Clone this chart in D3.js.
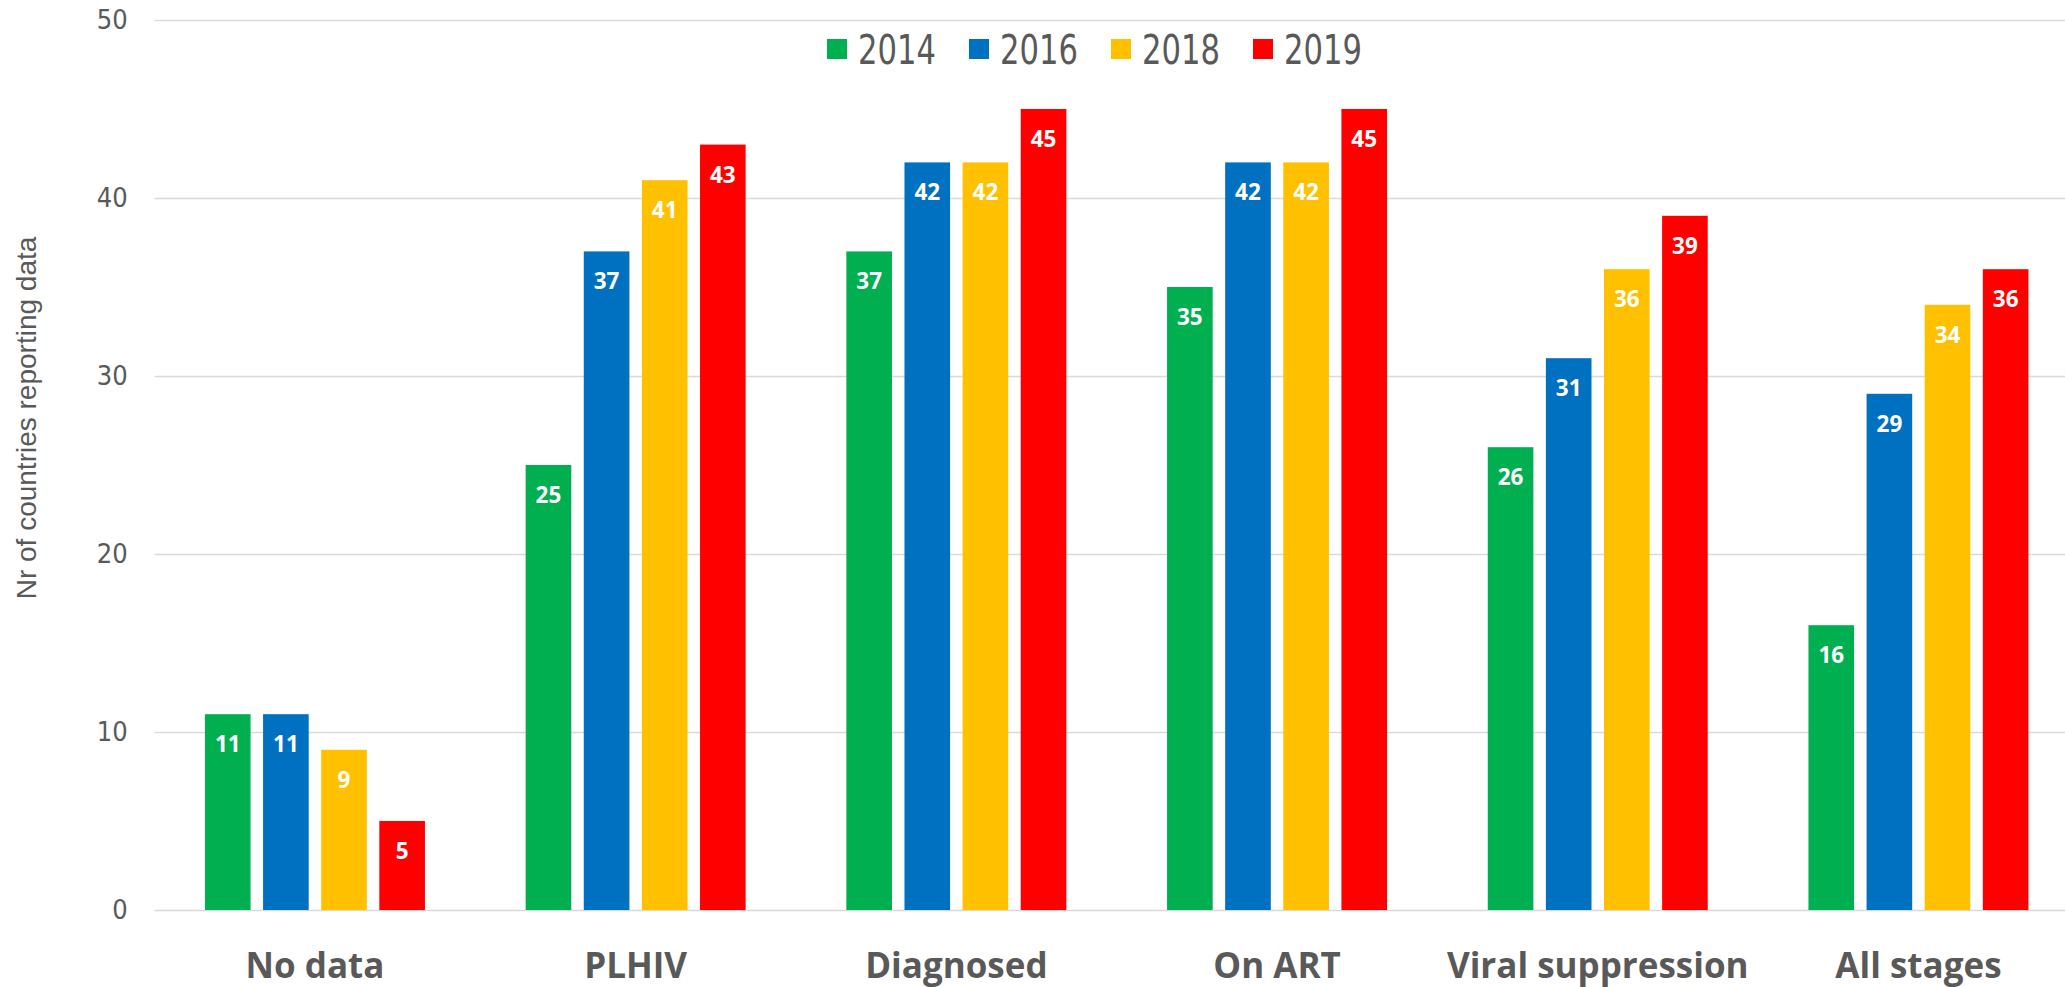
<html lang='en'>
<head>
   <meta charset='UTF-8'>
   <script src='https://d3js.org/d3.v7.min.js'></script>
   <style>
      body{
         margin: 0;
         padding: 0;
         background-color: white;
         overflow: hidden;
      }
   </style>
</head>
<body>
   <div id='tavola'></div>
   <script>
      // chart data
      var categories = ['No data', 'PLHIV', 'Diagnosed', 'On ART', 'Viral suppression', 'All stages'];
      var years = ['2014', '2016', '2018', '2019'];
      var v2014 = [11, 25, 37, 35, 26, 16];
      var v2016 = [11, 37, 42, 42, 31, 29];
      var v2018 = [9, 41, 42, 42, 36, 34];
      var v2019 = [5, 43, 45, 45, 39, 36];
      var yTicks = [0, 10, 20, 30, 40, 50];
      var yTitle = 'Nr of countries reporting data';

      var colors = ['#00B050', '#0070C0', '#FFC000', '#FF0000'];
      var series = [v2014, v2016, v2018, v2019];

      var W = 2065, H = 987;
      var plotLeft = 154.6, plotRight = 2078.8, plotTop = 20, plotBottom = 910;
      var grey = '#595959';
      var narrow = "'Liberation Sans Narrow', 'DejaVu Sans Condensed', sans-serif";

      var svg = d3.select('#tavola').append('svg')
         .attr('width', W)
         .attr('height', H);

      var x0 = d3.scaleBand().domain(categories).range([plotLeft, plotRight]);
      var x1 = d3.scaleBand().domain(years).range([-110, 110]).paddingInner(0.215);
      var y = d3.scaleLinear().domain([0, 50]).range([plotBottom, plotTop]);

      // y axis + gridlines
      var yAxis = svg.append('g')
         .attr('transform', 'translate(' + plotLeft + ',0)')
         .call(d3.axisLeft(y).tickValues(yTicks).tickSize(-(plotRight - plotLeft)).tickPadding(27));
      yAxis.select('.domain').remove();
      yAxis.selectAll('line')
         .attr('stroke', '#d9d9d9')
         .attr('stroke-width', 1.6);
      yAxis.selectAll('text')
         .attr('fill', grey)
         .attr('font-family', narrow)
         .attr('font-size', '27px');

      // x axis labels
      var xAxis = svg.append('g')
         .attr('transform', 'translate(0,' + plotBottom + ')')
         .call(d3.axisBottom(x0).tickSize(0));
      xAxis.select('.domain').remove();
      xAxis.selectAll('text')
         .attr('y', 68)
         .attr('dy', null)
         .attr('fill', grey)
         .attr('font-family', "'Open Sans', sans-serif")
         .attr('font-weight', 'bold')
         .attr('font-size', '35px');

      // bars
      for (let s = 0; s < series.length; s++) {
         var g = svg.append('g');
         g.selectAll('rect')
            .data(series[s])
            .enter().append('rect')
            .attr('x', function(d, i){ return x0(categories[i]) + x0.bandwidth()/2 + x1(years[s]); })
            .attr('y', function(d){ return y(d); })
            .attr('width', x1.bandwidth())
            .attr('height', function(d){ return y(0) - y(d); })
            .attr('fill', colors[s]);

         g.selectAll('text')
            .data(series[s])
            .enter().append('text')
            .attr('x', function(d, i){ return x0(categories[i]) + x0.bandwidth()/2 + x1(years[s]) + x1.bandwidth()/2; })
            .attr('y', function(d){ return y(d) + 38; })
            .attr('text-anchor', 'middle')
            .attr('font-family', "'Open Sans', sans-serif")
            .attr('font-weight', 'bold')
            .attr('font-size', '22.5px')
            .attr('fill', 'white')
            .text(function(d){ return d; });
      }

      // legend
      var legend = svg.append('g');
      for (let i = 0; i < years.length; i++) {
         var lx = 827 + i * 142;
         legend.append('rect')
            .attr('x', lx)
            .attr('y', 39)
            .attr('width', 20)
            .attr('height', 20)
            .attr('fill', colors[i]);
         legend.append('text')
            .attr('x', lx + 31)
            .attr('y', 64)
            .attr('fill', grey)
            .attr('font-family', narrow)
            .attr('font-size', '40px')
            .attr('textLength', 78)
            .attr('lengthAdjust', 'spacingAndGlyphs')
            .text(years[i]);
      }

      // y title
      svg.append('text')
         .attr('transform', 'translate(36,418) rotate(-90)')
         .attr('text-anchor', 'middle')
         .attr('fill', grey)
         .attr('font-family', "'Liberation Sans', Arial, sans-serif")
         .attr('font-size', '28px')
         .text(yTitle);
   </script>
</body>
</html>
